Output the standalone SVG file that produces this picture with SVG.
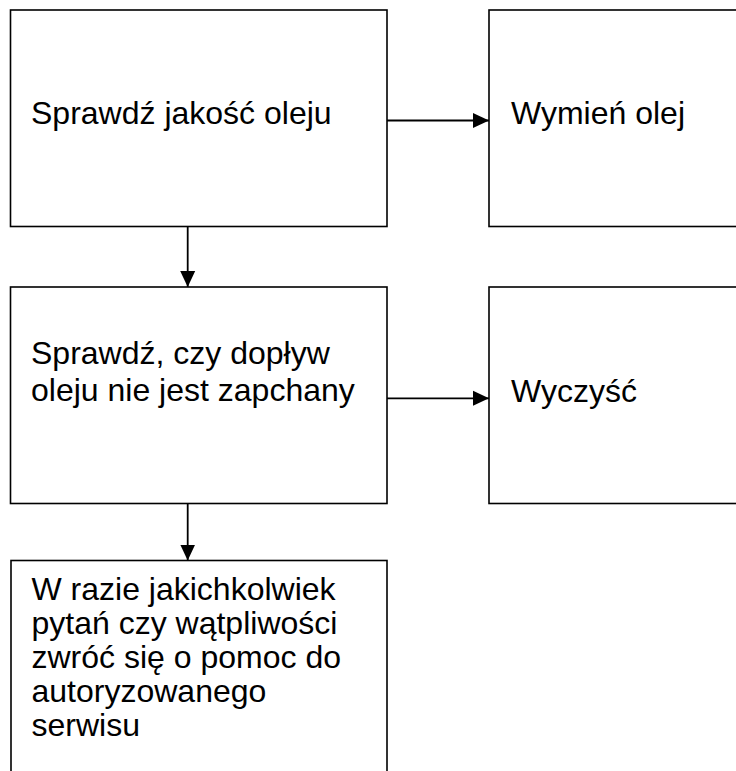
<svg xmlns="http://www.w3.org/2000/svg" width="736" height="771" viewBox="0 0 736 771">
  <style>
    .box { fill: #ffffff; stroke: #000000; stroke-width: 1.6; }
    .lbl { font-family: "Liberation Sans", Arial, sans-serif; font-size: 32px; fill: #000000; }
    .conn { stroke: #000000; stroke-width: 1.8; fill: none; }
  </style>
  <defs>
    <marker id="arrow" markerUnits="userSpaceOnUse" markerWidth="16" markerHeight="16" viewBox="0 0 16 16" refX="16" refY="8" orient="auto">
      <path d="M0,0.5 L16,8 L0,15.5 Z" fill="#000000"/>
    </marker>
  </defs>
  <rect width="736" height="771" fill="#ffffff"/>

  <g id="node-sprawdz-jakosc">
    <rect class="box" x="10.5" y="10" width="376.5" height="216.5"/>
    <text class="lbl" x="31" y="124">Sprawdź jakość oleju</text>
  </g>

  <g id="node-wymien-olej">
    <rect class="box" x="489" y="10" width="300" height="216.5"/>
    <text class="lbl" x="511" y="124">Wymień olej</text>
  </g>

  <g id="node-sprawdz-doplyw">
    <rect class="box" x="10.5" y="287" width="376.5" height="216.5"/>
    <text class="lbl" x="31" y="364">Sprawdź, czy dopływ</text>
    <text class="lbl" x="31" y="400.5">oleju nie jest zapchany</text>
  </g>

  <g id="node-wyczysc">
    <rect class="box" x="489" y="287" width="300" height="216.5"/>
    <text class="lbl" x="511" y="401.5">Wyczyść</text>
  </g>

  <g id="node-serwis">
    <rect class="box" x="11" y="560.5" width="376" height="260"/>
    <text class="lbl" x="31.5" y="599.5">W razie jakichkolwiek</text>
    <text class="lbl" x="31.5" y="633.7">pytań czy wątpliwości</text>
    <text class="lbl" x="31.5" y="667.9">zwróć się o pomoc do</text>
    <text class="lbl" x="31.5" y="702.1">autoryzowanego</text>
    <text class="lbl" x="31.5" y="736.3">serwisu</text>
  </g>

  <g id="connectors">
    <line class="conn" x1="387" y1="120.5" x2="489" y2="120.5" marker-end="url(#arrow)"/>
    <line class="conn" x1="387" y1="398.3" x2="489" y2="398.3" marker-end="url(#arrow)"/>
    <line class="conn" x1="187.7" y1="226.5" x2="187.7" y2="287" marker-end="url(#arrow)"/>
    <line class="conn" x1="187.7" y1="503.5" x2="187.7" y2="560.5" marker-end="url(#arrow)"/>
  </g>
</svg>
